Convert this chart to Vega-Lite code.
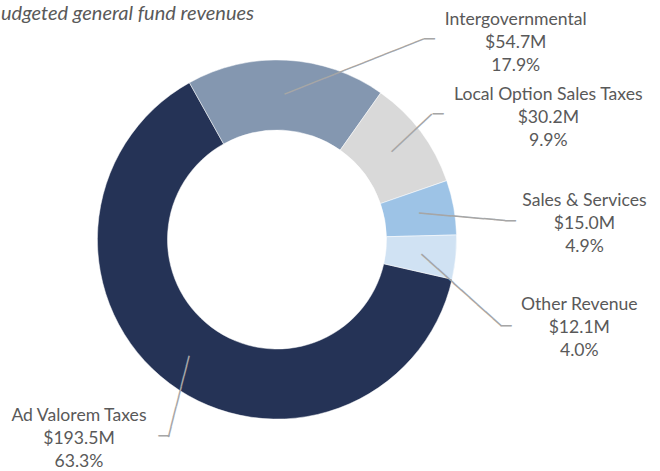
{
  "$schema": "https://vega.github.io/schema/vega-lite/v6.json",
  "width": 554,
  "height": 461,
  "autosize": {"type": "none"},
  "padding": {"left": 0, "top": 9, "right": 106, "bottom": 1},
  "background": "white",
  "config": {"view": {"stroke": null}},
  "title": {
    "text": "udgeted general fund revenues",
    "anchor": "start",
    "frame": "group",
    "font": "Lato",
    "fontSize": 20,
    "fontStyle": "italic",
    "fontWeight": "normal",
    "color": "#595959",
    "baseline": "alphabetic",
    "offset": -31,
    "dx": 1
  },
  "data": {
    "values": [
      {"category": "Ad Valorem Taxes", "amount": 193.5, "share": 63.3, "rank": 1},
      {"category": "Intergovernmental", "amount": 54.7, "share": 17.9, "rank": 2},
      {"category": "Local Option Sales Taxes", "amount": 30.2, "share": 9.9, "rank": 3},
      {"category": "Sales & Services", "amount": 15.0, "share": 4.9, "rank": 4},
      {"category": "Other Revenue", "amount": 12.1, "share": 4.0, "rank": 5}
    ]
  },
  "transform": [
    {"stack": "amount", "groupby": [], "sort": [{"field": "rank", "order": "ascending"}], "as": ["t0", "t1"]},
    {"calculate": "datum.category + '\\n$' + format(datum.amount, '.1f') + 'M\\n' + format(datum.share, '.1f') + '%'", "as": "label"}
  ],
  "encoding": {
    "theta": {"field": "t0", "type": "quantitative", "stack": null, "scale": {"domain": [0, 305.5], "range": [1.7942, 8.0774], "nice": false, "zero": true}}
  },
  "layer": [
    {
      "mark": {"type": "arc", "innerRadius": 109.5, "outerRadius": 179.6, "stroke": "white", "strokeWidth": 0.5},
      "encoding": {
        "theta2": {"field": "t1"},
        "color": {
          "field": "category", "type": "nominal", "legend": null,
          "scale": {
            "domain": ["Ad Valorem Taxes", "Intergovernmental", "Local Option Sales Taxes", "Sales & Services", "Other Revenue"],
            "range": ["#253356", "#8497B0", "#D9D9D9", "#9DC3E6", "#D0E2F3"]
          }
        }
      }
    },
    {
      "transform": [{"filter": "datum.category === 'Intergovernmental'"}],
      "mark": {"type": "text", "text": "──────────────", "radius": 188.65, "thetaOffset": 0.93272, "angle": 338.41, "font": "DejaVu Sans Mono", "fontSize": 17.74, "align": "center", "baseline": "middle", "color": "#A6A6A6"}
    },
    {
      "transform": [{"filter": "datum.category === 'Intergovernmental'"}],
      "mark": {"type": "text", "text": "─", "radius": 251.05, "thetaOffset": 1.16152, "angle": 0, "font": "DejaVu Sans Mono", "fontSize": 18, "align": "center", "baseline": "middle", "color": "#A6A6A6"}
    },
    {
      "transform": [{"filter": "datum.category === 'Local Option Sales Taxes'"}],
      "mark": {"type": "text", "text": "─────", "radius": 171.98, "thetaOffset": 0.29338, "angle": 316.7, "font": "DejaVu Sans Mono", "fontSize": 18.26, "align": "center", "baseline": "middle", "color": "#A6A6A6"}
    },
    {
      "transform": [{"filter": "datum.category === 'Local Option Sales Taxes'"}],
      "mark": {"type": "text", "text": "─", "radius": 203.6, "thetaOffset": 0.29708, "angle": 0, "font": "DejaVu Sans Mono", "fontSize": 18, "align": "center", "baseline": "middle", "color": "#A6A6A6"}
    },
    {
      "transform": [{"filter": "datum.category === 'Sales & Services'"}],
      "mark": {"type": "text", "text": "────────", "radius": 186.4, "thetaOffset": 0.21839, "angle": 4.94, "font": "DejaVu Sans Mono", "fontSize": 17.86, "align": "center", "baseline": "middle", "color": "#A6A6A6"}
    },
    {
      "transform": [{"filter": "datum.category === 'Sales & Services'"}],
      "mark": {"type": "text", "text": "─", "radius": 234.08, "thetaOffset": 0.25779, "angle": 0, "font": "DejaVu Sans Mono", "fontSize": 18, "align": "center", "baseline": "middle", "color": "#A6A6A6"}
    },
    {
      "transform": [{"filter": "datum.category === 'Other Revenue'"}],
      "mark": {"type": "text", "text": "──────────", "radius": 190.74, "thetaOffset": 0.29794, "angle": 41.87, "font": "DejaVu Sans Mono", "fontSize": 17.84, "align": "center", "baseline": "middle", "color": "#A6A6A6"}
    },
    {
      "transform": [{"filter": "datum.category === 'Other Revenue'"}],
      "mark": {"type": "text", "text": "─", "radius": 245.13, "thetaOffset": 0.38904, "angle": 0, "font": "DejaVu Sans Mono", "fontSize": 18, "align": "center", "baseline": "middle", "color": "#A6A6A6"}
    },
    {
      "transform": [{"filter": "datum.category === 'Ad Valorem Taxes'"}],
      "mark": {"type": "text", "text": "────────", "radius": 184.86, "thetaOffset": 1.90205, "angle": 284.3, "font": "DejaVu Sans Mono", "fontSize": 17.42, "align": "center", "baseline": "middle", "color": "#A6A6A6"}
    },
    {
      "transform": [{"filter": "datum.category === 'Ad Valorem Taxes'"}],
      "mark": {"type": "text", "text": "─", "radius": 227.85, "thetaOffset": 1.86685, "angle": 0, "font": "DejaVu Sans Mono", "fontSize": 18, "align": "center", "baseline": "middle", "color": "#A6A6A6"}
    },
    {
      "transform": [{"filter": "datum.category === 'Intergovernmental'"}],
      "mark": {"type": "text", "radius": 324.0, "thetaOffset": 1.33782, "font": "Lato", "fontSize": 17.6, "lineBreak": "\n", "lineHeight": 23, "align": "center", "baseline": "middle", "color": "#595959"},
      "encoding": {"text": {"field": "label", "type": "nominal"}}
    },
    {
      "transform": [{"filter": "datum.category === 'Local Option Sales Taxes'"}],
      "mark": {"type": "text", "radius": 307.4, "thetaOffset": 0.46568, "font": "Lato", "fontSize": 17.6, "lineBreak": "\n", "lineHeight": 23, "align": "center", "baseline": "middle", "color": "#595959"},
      "encoding": {"text": {"field": "label", "type": "nominal"}}
    },
    {
      "transform": [{"filter": "datum.category === 'Sales & Services'"}],
      "mark": {"type": "text", "radius": 309.8, "thetaOffset": 0.21089, "font": "Lato", "fontSize": 17.6, "lineBreak": "\n", "lineHeight": 23, "align": "center", "baseline": "middle", "color": "#595959"},
      "encoding": {"text": {"field": "label", "type": "nominal"}}
    },
    {
      "transform": [{"filter": "datum.category === 'Other Revenue'"}],
      "mark": {"type": "text", "radius": 309.25, "thetaOffset": 0.23774, "font": "Lato", "fontSize": 17.6, "lineBreak": "\n", "lineHeight": 23, "align": "center", "baseline": "middle", "color": "#595959"},
      "encoding": {"text": {"field": "label", "type": "nominal"}}
    },
    {
      "transform": [{"filter": "datum.category === 'Ad Valorem Taxes'"}],
      "mark": {"type": "text", "radius": 265.6, "thetaOffset": 2.18885, "font": "Lato", "fontSize": 17.6, "lineBreak": "\n", "lineHeight": 23, "align": "center", "baseline": "middle", "color": "#595959"},
      "encoding": {"text": {"field": "label", "type": "nominal"}}
    }
  ]
}
